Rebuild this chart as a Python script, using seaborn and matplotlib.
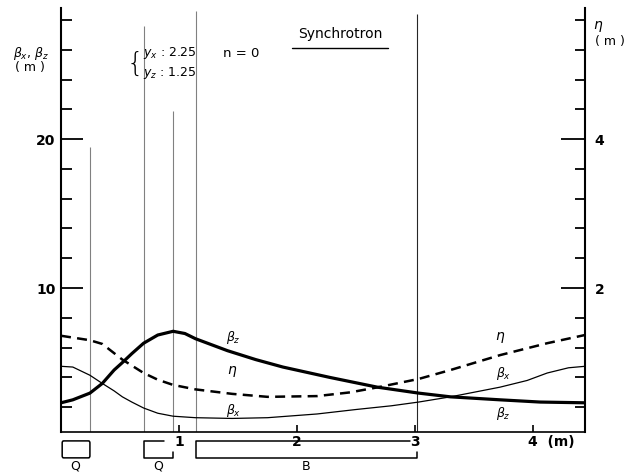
import matplotlib.pyplot as plt
import matplotlib.transforms as mtransforms
from matplotlib.lines import Line2D
from matplotlib.patches import FancyBboxPatch
from matplotlib.ticker import MultipleLocator
import seaborn as sns

# lattice functions (s in m)
s_bz = [0.00, 0.10, 0.245, 0.35, 0.45, 0.52, 0.60, 0.70, 0.82, 0.95, 1.05,
        1.14, 1.41, 1.65, 1.88, 2.28, 2.68, 3.03, 3.30, 3.72, 4.06, 4.44]
beta_z = [2.3, 2.5, 2.95, 3.6, 4.5, 5.0, 5.6, 6.3, 6.85, 7.1, 6.95,
          6.6, 5.8, 5.2, 4.7, 4.0, 3.35, 2.95, 2.7, 2.5, 2.35, 2.3]

s_bx = [0.00, 0.10, 0.245, 0.35, 0.45, 0.52, 0.60, 0.70, 0.82, 0.95, 1.14,
        1.45, 1.75, 2.17, 2.50, 2.80, 3.03, 3.30, 3.72, 3.95, 4.12, 4.30, 4.44]
beta_x = [4.75, 4.7, 4.15, 3.6, 3.1, 2.7, 2.35, 1.95, 1.6, 1.4, 1.3,
          1.25, 1.3, 1.55, 1.85, 2.1, 2.35, 2.7, 3.35, 3.8, 4.3, 4.65, 4.75]

s_eta = [0.00, 0.245, 0.35, 0.52, 0.70, 0.82, 0.95, 1.14, 1.45, 1.75,
         2.17, 2.45, 2.69, 3.03, 3.30, 3.72, 4.12, 4.44]
eta = [1.36, 1.30, 1.25, 1.04, 0.86, 0.77, 0.70, 0.64, 0.58, 0.54,
       0.55, 0.60, 0.67, 0.78, 0.90, 1.10, 1.26, 1.37]

# element edges (m) and the height the marker lines reach (beta scale)
edge_s = [0.245, 0.70, 0.95, 1.14, 3.02]
edge_top = [19.5, 27.6, 21.9, 28.6, 28.4]

x_ticks = [1, 2, 3, 4]
x_labels = ['1', '2', '3', '4  (m)']

W, H = 633, 473
sns.set_style('ticks', {'text.color': 'black', 'axes.edgecolor': 'black',
                        'xtick.color': 'black', 'ytick.color': 'black',
                        'axes.labelcolor': 'black'})
plt.rcParams['font.family'] = ['DejaVu Sans']
fig = plt.figure(figsize=(W / 100, H / 100), dpi=100)

ax = fig.add_axes([61 / W, 41 / H, 524 / W, 424 / H])
ax.set_xlim(0, 4.44)
ax.set_ylim(0.34, 28.8)
ax2 = ax.twinx()
ax2.set_ylim(0.34 / 5, 28.8 / 5)

# element boundary lines
for s, top in zip(edge_s, edge_top):
    c = '0.15' if s > 2 else '0.5'
    ax.vlines(s, 0.34, top, color=c, lw=0.8, zorder=1)

sns.lineplot(x=s_bz, y=beta_z, ax=ax, color='black', linewidth=2.3, sort=False)
sns.lineplot(x=s_bx, y=beta_x, ax=ax, color='black', linewidth=0.9, sort=False)
sns.lineplot(x=s_eta, y=eta, ax=ax2, color='black', linewidth=1.8, sort=False)
ax2.lines[-1].set_dashes((4, 2.5))

# spines
ax.spines['top'].set_visible(False)
ax.spines['right'].set_visible(False)
for side in ['top', 'left', 'bottom']:
    ax2.spines[side].set_visible(False)
ax.spines['left'].set_linewidth(1.5)
ax.spines['bottom'].set_linewidth(1.2)
ax2.spines['right'].set_linewidth(1.5)

# ticks
ax.set_yticks([10, 20])
ax.yaxis.set_minor_locator(MultipleLocator(2))
ax.tick_params(axis='y', which='major', direction='in', length=16, width=1.3,
               labelsize=10, pad=4)
ax.tick_params(axis='y', which='minor', direction='in', length=8, width=1.3)
for lbl in ax.get_yticklabels():
    lbl.set_fontweight('bold')

ax2.set_yticks([2, 4])
ax2.yaxis.set_minor_locator(MultipleLocator(0.4))
ax2.tick_params(axis='y', which='major', direction='in', length=17, width=1.3,
                labelsize=10, pad=7)
ax2.tick_params(axis='y', which='minor', direction='in', length=7, width=1.3)
for lbl in ax2.get_yticklabels():
    lbl.set_fontweight('bold')

ax.set_xticks(x_ticks, labels=x_labels)
ax.tick_params(axis='x', direction='in', length=5, width=1.2, labelsize=10, pad=2)
for lbl in ax.get_xticklabels():
    lbl.set_fontweight('bold')
    lbl.set_bbox(dict(facecolor='white', edgecolor='none', pad=0.5))
last = ax.get_xticklabels()[-1]
last.set_horizontalalignment('left')
last.set_transform(last.get_transform() +
                   mtransforms.ScaledTranslation(-4 / 72, 0, fig.dpi_scale_trans))

# magnet layout below the axis
tr = mtransforms.blended_transform_factory(ax.transData, ax.transAxes)
y_top, y_bot = -0.021, -0.061
q1 = FancyBboxPatch((0.01, y_bot), 0.235, y_top - y_bot,
                    boxstyle='round,pad=0,rounding_size=0.012', transform=tr,
                    fill=False, lw=1.1, ec='black', clip_on=False, mutation_aspect=0.4)
ax.add_patch(q1)
q2 = [[(0.87, y_top), (0.70, y_top), (0.70, y_bot), (0.95, y_bot), (0.95, -0.048)]]
b = [[(2.96, y_top), (1.14, y_top), (1.14, y_bot), (3.02, y_bot), (3.02, -0.048)]]
for path in q2 + b:
    xs, ys = zip(*path)
    ax.add_line(Line2D(xs, ys, transform=tr, color='black', lw=1.1,
                       clip_on=False, zorder=1))
for s, name in zip([0.12, 0.82, 2.08], ['Q', 'Q', 'B']):
    ax.text(s, -0.096, name, transform=tr, ha='center', va='bottom', fontsize=9)

# curve labels
ax.text(1.46, 6.7, r'$\beta_z$', fontsize=9, ha='center', va='center')
ax.text(1.45, 4.4, r'$\eta$', fontsize=10, ha='center', va='center')
ax.text(1.46, 1.8, r'$\beta_x$', fontsize=9, ha='center', va='center')
ax.text(3.72, 6.7, r'$\eta$', fontsize=10, ha='center', va='center')
ax.text(3.75, 4.3, r'$\beta_x$', fontsize=9, ha='center', va='center')
ax.text(3.75, 1.6, r'$\beta_z$', fontsize=9, ha='center', va='center')


# axis titles and annotations (figure pixels)
def ftext(px, py, s, **kw):
    fig.text(px / W, 1 - py / H, s, **kw)


ftext(31, 53, r'$\beta_x$, $\beta_z$', ha='center', va='center', fontsize=9)
ftext(30, 68, '( m )', ha='center', va='center', fontsize=9)
ftext(598, 27, r'$\eta$', ha='center', va='center', fontsize=10)
ftext(610, 42, '( m )', ha='center', va='center', fontsize=9)
ftext(143, 63, '{', ha='right', va='center', fontsize=19, fontweight='light')
ftext(143, 53, r'$y_x$ : 2.25', ha='left', va='center', fontsize=9)
ftext(143, 73, r'$y_z$ : 1.25', ha='left', va='center', fontsize=9)
ftext(241, 53, 'n = 0', ha='center', va='center', fontsize=9.5)
ftext(340, 34, 'Synchrotron', ha='center', va='center', fontsize=10)
fig.add_artist(Line2D([292 / W, 388 / W], [1 - 48 / H, 1 - 48 / H],
                      color='black', lw=1.0))

fig.savefig('out.png', dpi=100)
